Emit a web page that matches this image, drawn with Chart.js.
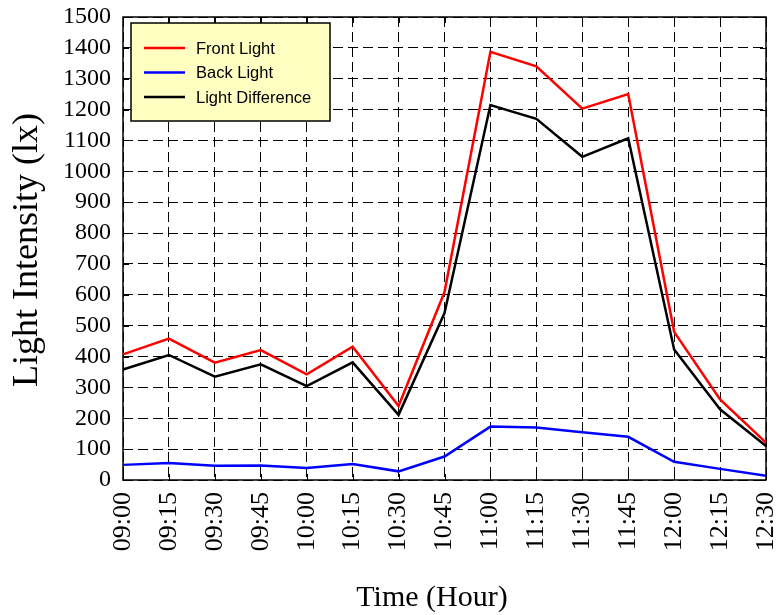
<!DOCTYPE html>
<html>
<head>
<meta charset="utf-8">
<script src="https://cdn.jsdelivr.net/npm/chart.js@4/dist/chart.umd.min.js"></script>
<style>
  html, body { margin: 0; padding: 0; background: #fff; }
  #wrap { width: 778px; height: 615px; position: relative; }
</style>
</head>
<body>
<div id="wrap"><canvas id="lightChart"></canvas></div>
<script>
// données
const times = ['09:00', '09:15', '09:30', '09:45', '10:00', '10:15', '10:30', '10:45',
  '11:00', '11:15', '11:30', '11:45', '12:00', '12:15', '12:30'];
const frontLight = [407, 458, 380, 421, 342, 432, 240, 609, 1387, 1340, 1203, 1250, 480, 261, 121];
const backLight = [49, 55, 46, 47, 39, 52, 28, 76, 173, 170, 155, 140, 59, 36, 14];
const lightDiff = [358, 405, 335, 375, 304, 381, 211, 541, 1215, 1170, 1047, 1107, 423, 229, 110];

const serif = '"Liberation Serif", "Times New Roman", serif';
const sans = '"Liberation Sans", Arial, sans-serif';

// cadre, petites graduations internes, titres et légende
const framePlugin = {
  id: 'frame',
  beforeDatasetsDraw(chart) {
    const { ctx, chartArea: a, scales } = chart;
    ctx.save();
    ctx.strokeStyle = '#000';
    ctx.lineWidth = 1;
    ctx.beginPath();
    scales.x.ticks.forEach((t, i) => {
      const x = Math.round(scales.x.getPixelForTick(i)) + 0.5;
      ctx.moveTo(x, a.bottom); ctx.lineTo(x, a.bottom - 6);
      ctx.moveTo(x, a.top); ctx.lineTo(x, a.top + 6);
    });
    scales.y.ticks.forEach((t, i) => {
      const y = Math.round(scales.y.getPixelForTick(i)) + 0.5;
      ctx.moveTo(a.left, y); ctx.lineTo(a.left + 6, y);
      ctx.moveTo(a.right, y); ctx.lineTo(a.right - 6, y);
    });
    ctx.stroke();
    ctx.lineWidth = 1.5;
    ctx.strokeRect(a.left, a.top, a.right - a.left, a.bottom - a.top);
    ctx.restore();
  },
  afterDraw(chart) {
    const { ctx } = chart;
    ctx.save();
    ctx.fillStyle = '#000';
    ctx.textAlign = 'center';
    ctx.textBaseline = 'middle';
    ctx.font = '36px ' + serif;
    ctx.translate(28, 250);
    ctx.rotate(-Math.PI / 2);
    ctx.fillText('Light Intensity (lx)', 0, 0);
    ctx.restore();

    ctx.save();
    ctx.fillStyle = '#000';
    ctx.textAlign = 'center';
    ctx.textBaseline = 'middle';
    ctx.font = '30px ' + serif;
    ctx.fillText('Time (Hour)', 432, 598);
    ctx.restore();

    // légende
    ctx.save();
    ctx.fillStyle = '#ffffc2';
    ctx.fillRect(131, 23, 199, 98);
    ctx.strokeStyle = '#000';
    ctx.lineWidth = 1.5;
    ctx.strokeRect(131, 23, 199, 98);
    ctx.font = '16.5px ' + sans;
    ctx.textAlign = 'left';
    ctx.textBaseline = 'middle';
    chart.data.datasets.forEach((ds, i) => {
      const y = 48 + i * 24.5;
      ctx.strokeStyle = ds.borderColor;
      ctx.lineWidth = 2.5;
      ctx.beginPath();
      ctx.moveTo(144, y); ctx.lineTo(185, y);
      ctx.stroke();
      ctx.fillStyle = '#000';
      ctx.fillText(ds.label, 196, y + 1);
    });
    ctx.restore();
  }
};

new Chart(document.getElementById('lightChart'), {
  type: 'line',
  data: {
    labels: times,
    datasets: [
      { label: 'Front Light', data: frontLight, borderColor: '#ff0000' },
      { label: 'Back Light', data: backLight, borderColor: '#0000ff' },
      { label: 'Light Difference', data: lightDiff, borderColor: '#000000' }
    ]
  },
  options: {
    responsive: true,
    maintainAspectRatio: false,
    animation: false,
    layout: { autoPadding: false, padding: { left: 0, right: 12, top: 17, bottom: 0 } },
    elements: {
      line: { borderWidth: 2.5, tension: 0, fill: false },
      point: { radius: 0 }
    },
    plugins: { legend: { display: false }, tooltip: { enabled: false } },
    scales: {
      x: {
        afterFit(scale) {
          scale.height = 135;
          scale.paddingLeft = 0;
          scale.paddingRight = 0;
        },
        grid: { color: '#000', lineWidth: 1, drawTicks: false },
        border: { display: false, dash: [10, 5] },
        ticks: {
          color: '#000',
          font: { family: serif, size: 26 },
          maxRotation: 90,
          minRotation: 90,
          padding: 12,
          autoSkip: false
        }
      },
      y: {
        min: 0,
        max: 1500,
        afterFit(scale) {
          scale.width = 123;
          scale.paddingTop = 0;
          scale.paddingBottom = 0;
        },
        grid: { color: '#000', lineWidth: 1, drawTicks: false },
        border: { display: false, dash: [10, 5] },
        ticks: {
          stepSize: 100,
          autoSkip: false,
          color: '#000',
          font: { family: serif, size: 24 },
          padding: 12,
          callback: (v) => String(v)
        }
      }
    }
  },
  plugins: [framePlugin]
});
</script>
</body>
</html>
